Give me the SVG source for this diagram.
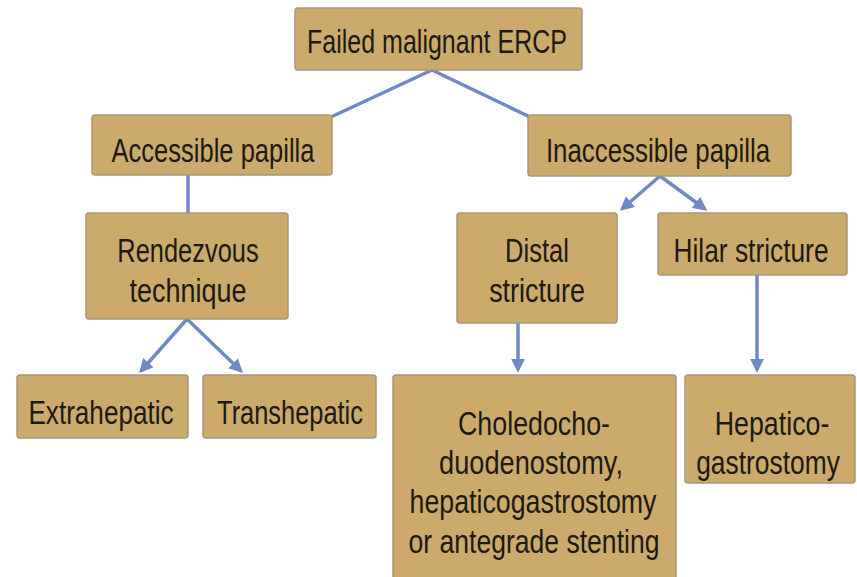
<svg xmlns="http://www.w3.org/2000/svg" width="857" height="577" viewBox="0 0 857 577">
<defs>
<marker id="ah" viewBox="0 0 10 10" refX="8" refY="5" markerWidth="4" markerHeight="4" orient="auto" markerUnits="strokeWidth">
<path d="M0,0 L10,5 L0,10 z" fill="#7088C4"/>
</marker>
<style>
.box{fill:#CBAA6C;stroke:#A8987A;stroke-width:1.5}
.t{font-family:"Liberation Sans",Arial,sans-serif;font-size:33px;fill:#1E1A12;text-anchor:middle}
.c{fill:none;stroke:#7088C4;stroke-width:3.5}
</style>
</defs>
<rect width="857" height="577" fill="#FFFFFF"/>
<g id="connectors">
<line class="c" x1="432" y1="70" x2="331" y2="117"/>
<line class="c" x1="432" y1="70" x2="530" y2="117"/>
<line class="c" x1="188" y1="175" x2="188" y2="213"/>
<line class="c" x1="660" y1="176" x2="622" y2="209" marker-end="url(#ah)"/>
<line class="c" x1="660" y1="176" x2="705" y2="209" marker-end="url(#ah)"/>
<line class="c" x1="187" y1="319" x2="141" y2="371" marker-end="url(#ah)"/>
<line class="c" x1="187" y1="319" x2="241" y2="371" marker-end="url(#ah)"/>
<line class="c" x1="518" y1="323" x2="518" y2="370" marker-end="url(#ah)"/>
<line class="c" x1="757" y1="275" x2="757" y2="370" marker-end="url(#ah)"/>
</g>
<g id="n-failed">
<rect class="box" x="295" y="8" width="287" height="62" rx="3"/>
<text class="t" transform="translate(437,53) scale(0.76,1)" textLength="342" lengthAdjust="spacingAndGlyphs">Failed malignant ERCP</text>
</g>
<g id="n-accessible">
<rect class="box" x="92" y="115" width="240" height="60" rx="3"/>
<text class="t" transform="translate(213,162) scale(0.76,1)" textLength="267" lengthAdjust="spacingAndGlyphs">Accessible papilla</text>
</g>
<g id="n-inaccessible">
<rect class="box" x="528" y="115" width="263" height="61" rx="3"/>
<text class="t" transform="translate(658,162) scale(0.76,1)" textLength="295" lengthAdjust="spacingAndGlyphs">Inaccessible papilla</text>
</g>
<g id="n-rendezvous">
<rect class="box" x="86" y="213" width="202" height="106" rx="3"/>
<text class="t" transform="translate(188,262) scale(0.76,1)" textLength="186" lengthAdjust="spacingAndGlyphs">Rendezvous</text>
<text class="t" transform="translate(188,302) scale(0.76,1)" textLength="154" lengthAdjust="spacingAndGlyphs">technique</text>
</g>
<g id="n-distal">
<rect class="box" x="457" y="213" width="160" height="110" rx="3"/>
<text class="t" transform="translate(537,262) scale(0.76,1)" textLength="84" lengthAdjust="spacingAndGlyphs">Distal</text>
<text class="t" transform="translate(537,302) scale(0.76,1)" textLength="126" lengthAdjust="spacingAndGlyphs">stricture</text>
</g>
<g id="n-hilar">
<rect class="box" x="658" y="213" width="189" height="62" rx="3"/>
<text class="t" transform="translate(751,262) scale(0.76,1)" textLength="204" lengthAdjust="spacingAndGlyphs">Hilar stricture</text>
</g>
<g id="n-extra">
<rect class="box" x="17" y="375" width="171" height="63" rx="3"/>
<text class="t" transform="translate(101,424) scale(0.76,1)" textLength="191" lengthAdjust="spacingAndGlyphs">Extrahepatic</text>
</g>
<g id="n-trans">
<rect class="box" x="203" y="375" width="173" height="63" rx="3"/>
<text class="t" transform="translate(290,424) scale(0.76,1)" textLength="192" lengthAdjust="spacingAndGlyphs">Transhepatic</text>
</g>
<g id="n-choledocho">
<rect class="box" x="393" y="375" width="283" height="205" rx="3"/>
<text class="t" transform="translate(534,435) scale(0.76,1)" textLength="200" lengthAdjust="spacingAndGlyphs">Choledocho-</text>
<text class="t" transform="translate(531,474) scale(0.76,1)" textLength="242" lengthAdjust="spacingAndGlyphs">duodenostomy,</text>
<text class="t" transform="translate(533,513) scale(0.76,1)" textLength="325" lengthAdjust="spacingAndGlyphs">hepaticogastrostomy</text>
<text class="t" transform="translate(534,553) scale(0.76,1)" textLength="330" lengthAdjust="spacingAndGlyphs">or antegrade stenting</text>
</g>
<g id="n-hepatico">
<rect class="box" x="685" y="375" width="170" height="108" rx="3"/>
<text class="t" transform="translate(772,435) scale(0.76,1)" textLength="151" lengthAdjust="spacingAndGlyphs">Hepatico-</text>
<text class="t" transform="translate(768,474) scale(0.76,1)" textLength="189" lengthAdjust="spacingAndGlyphs">gastrostomy</text>
</g>
</svg>
